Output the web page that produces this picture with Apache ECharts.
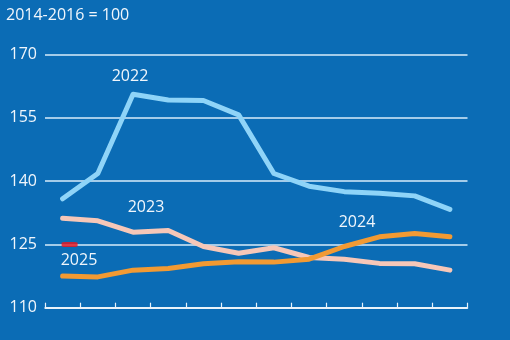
<!DOCTYPE html>
<html><head><meta charset="utf-8">
<script src="https://cdn.jsdelivr.net/npm/echarts@6/dist/echarts.min.js"></script>
<style>html,body{margin:0;padding:0;background:#0b6cb5}#c{width:510px;height:340px}</style>
</head><body><div id="c"></div>
<script>
const months = ['Jan','Feb','Mar','Apr','May','Jun','Jul','Aug','Sep','Oct','Nov','Dec'];
const s2022 = [135.8,141.8,160.6,159.2,159.1,155.7,141.8,138.8,137.5,137.1,136.5,133.3];
const s2023 = [131.2,130.6,127.9,128.3,124.5,122.9,124.2,121.9,121.5,120.5,120.4,118.9];
const s2024 = [117.5,117.3,118.9,119.3,120.4,120.9,120.8,121.5,124.5,126.8,127.6,126.8];
const s2025 = [125];
const yTicks = [110,125,140,155,170];
const unitLabel = '2014-2016 = 100';
const FONT = '"Liberation Sans Narrow","Open Sans",sans-serif';
const chart = echarts.init(document.getElementById('c'), null, {renderer:'canvas'});
const line = (name, data, color) => ({
  name, type:'line', data, symbol:'none', smooth:false,
  lineStyle:{color, width:5, cap:'round', join:'round'}, z:3
});
chart.setOption({
  backgroundColor:'#0b6cb5',
  animation:false,
  grid:{left:45, right:42.5, top:54.5, bottom:32.3},
  xAxis:{type:'category', data:months, boundaryGap:true,
    axisLine:{show:true, onZero:false, lineStyle:{color:'#ffffff', width:1.5}},
    axisTick:{show:true, inside:true, length:5, interval:0, lineStyle:{color:'#e6f2fc', width:1.2}},
    axisLabel:{show:false}, splitLine:{show:false}},
  yAxis:{type:'value', min:yTicks[0], max:yTicks[yTicks.length-1], interval:15,
    axisLine:{show:false}, axisTick:{show:false},
    axisLabel:{color:'#f0f6fc', fontFamily:FONT, fontSize:16, margin:8},
    splitLine:{lineStyle:{color:'#d8ecfb', width:1.5}}},
  graphic:[
    {type:'text', left:6, top:7, style:{text:unitLabel, fill:'#f0f6fc', font:'16px '+FONT}},
    {type:'text', x:130, y:76, style:{text:'2022', fill:'#f0f6fc', font:'16px '+FONT, align:'center', verticalAlign:'middle'}},
    {type:'text', x:146, y:207, style:{text:'2023', fill:'#f0f6fc', font:'16px '+FONT, align:'center', verticalAlign:'middle'}},
    {type:'text', x:357, y:222, style:{text:'2024', fill:'#f0f6fc', font:'16px '+FONT, align:'center', verticalAlign:'middle'}},
    {type:'text', x:79, y:260, style:{text:'2025', fill:'#f0f6fc', font:'16px '+FONT, align:'center', verticalAlign:'middle'}}
  ],
  series:[
    line('2022', s2022, '#8fd4f8'),
    line('2023', s2023, '#f6c7b8'),
    line('2024', s2024, '#f29a33'),
    {name:'2025', type:'scatter', data:s2025, symbol:'roundRect', symbolSize:[16,5], symbolOffset:[7,0],
     itemStyle:{color:'#f0141c'}, z:4}
  ]
});
</script></body></html>
